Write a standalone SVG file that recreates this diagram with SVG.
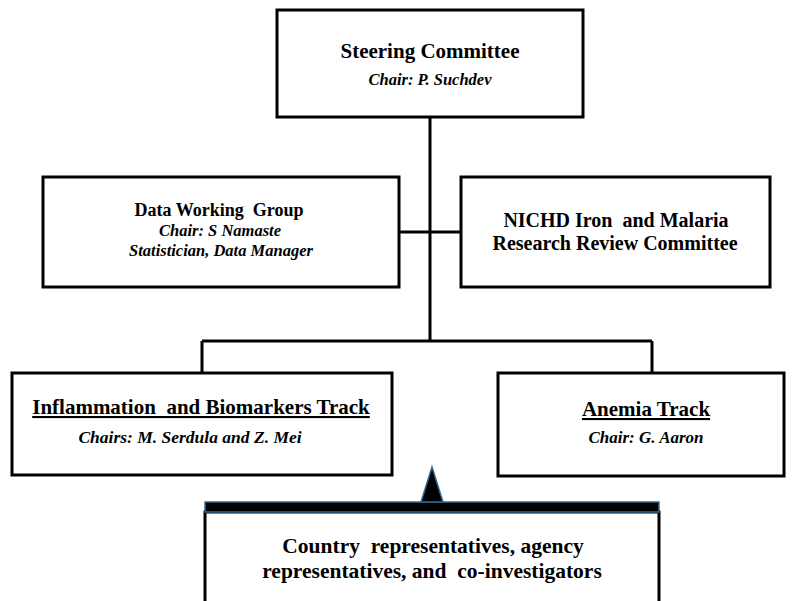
<svg xmlns="http://www.w3.org/2000/svg" width="796" height="601" viewBox="0 0 796 601">
<style>
.box{fill:#fff;stroke:#000;stroke-width:3}
.t{font-family:"Liberation Serif","Times New Roman",serif;font-weight:bold;fill:#000;text-anchor:middle;white-space:pre}
.i{font-style:italic}
.ln{stroke:#000;stroke-width:3;fill:none}
</style>
<rect width="796" height="601" fill="#fff"/>
<g id="connectors">
<path class="ln" d="M430 117 V341 M399 232 H461 M202 341 H652 M202 341 V373 M652 341 V373"/>
</g>
<g id="steering">
<rect class="box" x="277" y="10" width="306" height="107"/>
<text class="t" x="430" y="58" font-size="21">Steering Committee</text>
<text class="t i" x="430" y="85" font-size="16.5">Chair: P. Suchdev</text>
</g>
<g id="data">
<rect class="box" x="43" y="177" width="356" height="110"/>
<text class="t" x="219" y="216" font-size="18">Data Working  Group</text>
<text class="t i" x="220" y="236" font-size="16.5">Chair: S Namaste</text>
<text class="t i" x="221" y="256" font-size="16.5">Statistician, Data Manager</text>
</g>
<g id="nichd">
<rect class="box" x="461" y="177" width="309" height="110"/>
<text class="t" x="616" y="227" font-size="20">NICHD Iron  and Malaria</text>
<text class="t" x="615" y="250" font-size="20">Research Review Committee</text>
</g>
<g id="inflammation">
<rect class="box" x="12" y="373" width="380" height="102"/>
<text class="t" x="201" y="414" font-size="21" text-decoration="underline">Inflammation  and Biomarkers Track</text>
<text class="t i" x="190" y="443" font-size="17.5">Chairs: M. Serdula and Z. Mei</text>
</g>
<g id="anemia">
<rect class="box" x="498" y="373" width="286" height="103"/>
<text class="t" x="646" y="416" font-size="21" text-decoration="underline">Anemia Track</text>
<text class="t i" x="646" y="443" font-size="17">Chair: G. Aaron</text>
</g>
<g id="country">
<rect class="box" x="205" y="512" width="454" height="100"/>
<rect x="205" y="502" width="454" height="10" fill="#000" stroke="#2e6a99" stroke-width="1.5"/>
<polygon points="432,467 421,502 443,502" fill="#000" stroke="#2e6a99" stroke-width="1.5"/>
<text class="t" x="433" y="553" font-size="21.5">Country  representatives, agency</text>
<text class="t" x="432" y="578" font-size="21.5">representatives, and  co-investigators</text>
</g>
</svg>
